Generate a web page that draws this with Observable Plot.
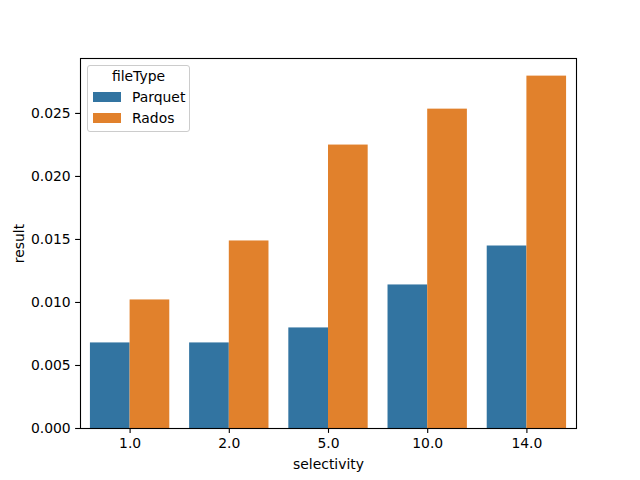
<!DOCTYPE html>
<html>
<head>
<meta charset="utf-8">
<script src="https://cdn.jsdelivr.net/npm/d3@7"></script>
<script src="https://cdn.jsdelivr.net/npm/@observablehq/plot@0.6"></script>
<style>
  html, body { margin: 0; padding: 0; background: #fff; }
  #wrap { position: relative; width: 640px; height: 480px; font-family: "DejaVu Sans", sans-serif; }
  #wrap svg { display: block; }
  .lg-box { position: absolute; left: 87px; top: 65px; width: 101px; height: 65px;
            border: 1px solid #cccccc; border-radius: 3px; background: rgba(255,255,255,0.8); }
  .lg-text { position: absolute; font-size: 13.9px; line-height: 16.2px; color: #000; white-space: nowrap; }
  .lg-patch { position: absolute; width: 28px; height: 10px; }
</style>
</head>
<body>
<div id="wrap"></div>
<script>
// ---- data ----
const selectivity = ["1.0", "2.0", "5.0", "10.0", "14.0"];
const fileTypes = ["Parquet", "Rados"];
const parquet = [0.00679, 0.00679, 0.00798, 0.01139, 0.01448];
const rados   = [0.0102, 0.01488, 0.02249, 0.02534, 0.02796];
const colors = ["#3274a1", "#e1812c"];
const yTicks = [0, 0.005, 0.010, 0.015, 0.020, 0.025];
const xLabel = "selectivity";
const yLabel = "result";
const legendTitle = "fileType";

// ---- build table ----
const series = [parquet, rados];
const barWidth = 0.4; // fraction of category step per bar (seaborn dodge, width 0.8)
const rows = [];
fileTypes.forEach((t, k) => {
  series[k].forEach((v, i) => {
    rows.push({i, sel: selectivity[i], type: t, value: v,
               x1: i - barWidth + k * barWidth, x2: i + k * barWidth});
  });
});
const yMax = d3.max(rows, d => d.value) * 1.05;

const chart = Plot.plot({
  width: 640,
  height: 480,
  marginLeft: 80,
  marginRight: 64,
  marginTop: 58,
  marginBottom: 52,
  style: {fontFamily: "DejaVu Sans, sans-serif", fontSize: "13.9px", color: "#000", background: "#fff"},
  x: {type: "linear", domain: [-0.5, selectivity.length - 0.5]},
  y: {domain: [0, yMax]},
  color: {domain: fileTypes, range: colors},
  marks: [
    Plot.rect(rows, {x1: "x1", x2: "x2", y1: 0, y2: "value", fill: "type"}),
    Plot.frame({stroke: "#000", strokeWidth: 1.1}),
    Plot.axisX({
      ticks: d3.range(selectivity.length),
      tickFormat: i => selectivity[i],
      tickSize: 4.9, tickPadding: 4.9, strokeWidth: 1.1,
      label: xLabel, labelAnchor: "center", labelOffset: 40, labelArrow: "none"
    }),
    Plot.axisY({
      ticks: yTicks,
      tickFormat: d3.format(".3f"),
      tickSize: 4.9, tickPadding: 4.9, strokeWidth: 1.1,
      label: yLabel, labelAnchor: "center", labelOffset: 66, labelArrow: "none"
    })
  ]
});

const wrap = document.getElementById("wrap");
wrap.appendChild(chart);

// ---- legend (HTML overlay, matplotlib-style) ----
const box = document.createElement("div");
box.className = "lg-box";
wrap.appendChild(box);
const title = document.createElement("div");
title.className = "lg-text";
title.textContent = legendTitle;
title.style.left = "87px";
title.style.width = "103px";
title.style.textAlign = "center";
title.style.top = "68px";
wrap.appendChild(title);
fileTypes.forEach((t, k) => {
  const patchTop = [92, 113][k];
  const textTop = [89, 110][k];
  const p = document.createElement("div");
  p.className = "lg-patch";
  p.style.left = "93px";
  p.style.top = patchTop + "px";
  p.style.background = colors[k];
  wrap.appendChild(p);
  const s = document.createElement("div");
  s.className = "lg-text";
  s.style.left = "132px";
  s.style.top = textTop + "px";
  s.textContent = t;
  wrap.appendChild(s);
});
</script>
</body>
</html>
